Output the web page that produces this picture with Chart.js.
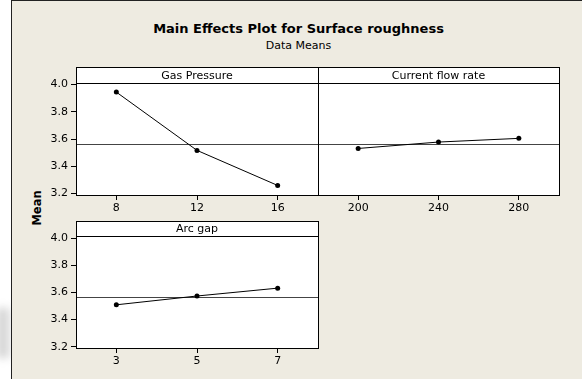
<!DOCTYPE html>
<html>
<head>
<meta charset="utf-8">
<script src="https://cdn.jsdelivr.net/npm/chart.js@4"></script>
<style>
  body { margin: 0; background: #fff; }
  #page { position: relative; width: 582px; height: 379px; overflow: hidden; background: #fff; }
  #smudge { position: absolute; left: -4px; top: 308px; width: 14px; height: 50px; background: #d8d8d8; filter: blur(4px); }
  #frame { position: absolute; left: 11px; top: 0; width: 580px; height: 390px;
           background: #eeebe1; border-left: 1px solid #222; border-top: 1px solid #222; }
  canvas { position: absolute; left: 0; top: 0; }
  .txt { position: absolute; font-family: "DejaVu Sans", sans-serif; color: #000; white-space: nowrap; }
  #title { left: 0; width: 597px; top: 21px; text-align: center; font-size: 13px; font-weight: bold; line-height: 16px; }
  #subtitle { left: 0; width: 597px; top: 39px; text-align: center; font-size: 11px; line-height: 14px; }
  #ylab { left: 37px; top: 208px; font-size: 11.5px; font-weight: bold; transform: translate(-50%, -50%) rotate(-90deg); }
</style>
</head>
<body>
<div id="page">
  <div id="smudge"></div>
  <div id="frame"></div>
  <div class="txt" id="title">Main Effects Plot for Surface roughness</div>
  <div class="txt" id="subtitle">Data Means</div>
  <div class="txt" id="ylab">Mean</div>
  <canvas id="p1" width="582" height="379"></canvas>
  <canvas id="p2" width="582" height="379"></canvas>
  <canvas id="p3" width="582" height="379"></canvas>
</div>
<script>
// data
const pressureLevels = ['8', '12', '16'];
const pressureMeans = [3.944, 3.517, 3.260];
const flowLevels = ['200', '240', '280'];
const flowMeans = [3.531, 3.578, 3.605];
const gapLevels = ['3', '5', '7'];
const gapMeans = [3.509, 3.574, 3.632];
const yTicks = [3.2, 3.4, 3.6, 3.8, 4.0];
const grandMean = 3.567;

const FONT = { family: 'DejaVu Sans', size: 11 };

// white plot area, frame, header strip and the grand mean line
const panelDeco = {
  id: 'panelDeco',
  beforeDraw(chart) {
    const a = chart.chartArea, ctx = chart.ctx;
    ctx.save();
    ctx.fillStyle = '#fff';
    ctx.fillRect(a.left, a.top, a.right - a.left, a.bottom - a.top);
    ctx.restore();
  },
  beforeDatasetsDraw(chart, args, opts) {
    const a = chart.chartArea, ctx = chart.ctx;
    const y = Math.round(chart.scales.y.getPixelForValue(grandMean)) + 0.5;
    ctx.save();
    ctx.strokeStyle = '#444';
    ctx.lineWidth = 1;
    ctx.beginPath();
    ctx.moveTo(a.left, y);
    ctx.lineTo(a.right, y);
    ctx.stroke();
    ctx.restore();
  },
  afterDraw(chart, args, opts) {
    const a = chart.chartArea, ctx = chart.ctx;
    const hb = a.top + opts.header;
    ctx.save();
    ctx.fillStyle = '#fff';
    ctx.fillRect(a.left, a.top, a.right - a.left, opts.header);
    ctx.strokeStyle = '#000';
    ctx.lineWidth = 1;
    ctx.strokeRect(a.left + 0.5, a.top + 0.5, a.right - a.left, a.bottom - a.top);
    ctx.beginPath();
    ctx.moveTo(a.left, hb + 0.5);
    ctx.lineTo(a.right, hb + 0.5);
    ctx.stroke();
    ctx.fillStyle = '#000';
    ctx.font = '11px "DejaVu Sans"';
    ctx.textAlign = 'center';
    ctx.textBaseline = 'middle';
    ctx.fillText(opts.label, (a.left + a.right) / 2, a.top + opts.header / 2 + 1);
    ctx.restore();
  }
};

function panel(id, title, levels, means, pad, showY, header) {
  return new Chart(document.getElementById(id), {
    type: 'line',
    data: {
      labels: levels,
      datasets: [{
        data: means,
        borderColor: '#000',
        borderWidth: 1,
        backgroundColor: '#000',
        pointRadius: 2.5,
        pointBorderWidth: 0,
        tension: 0
      }]
    },
    options: {
      responsive: false,
      animation: false,
      devicePixelRatio: 1,
      layout: { padding: pad },
      plugins: {
        legend: { display: false },
        tooltip: { enabled: false },
        panelDeco: { label: title, header: header }
      },
      scales: {
        x: {
          type: 'category',
          offset: true,
          grid: { display: true, drawOnChartArea: false, drawTicks: true, tickLength: 5, color: '#000', offset: false },
          border: { display: false },
          ticks: { color: '#000', font: FONT, padding: 2, maxRotation: 0 },
          afterFit(s) { s.height = 30; }
        },
        y: {
          display: showY,
          min: 3.19,
          max: 4.128,
          grid: { display: true, drawOnChartArea: false, drawTicks: true, tickLength: 5, color: '#000' },
          border: { display: false },
          ticks: { color: '#000', font: FONT, padding: 3, callback: v => v.toFixed(1) },
          afterBuildTicks(s) { s.ticks = yTicks.map(v => ({ value: v })); },
          afterFit(s) { s.width = showY ? 76 : 0; }
        }
      }
    },
    plugins: [panelDeco]
  });
}

panel('p1', 'Gas Pressure', pressureLevels, pressureMeans, { left: 0, right: 264, top: 67, bottom: 154 }, true, 16);
panel('p2', 'Current flow rate', flowLevels, flowMeans, { left: 318, right: 23, top: 67, bottom: 154 }, false, 16);
panel('p3', 'Arc gap', gapLevels, gapMeans, { left: 0, right: 264, top: 221, bottom: 1 }, true, 15);
</script>
</body>
</html>
